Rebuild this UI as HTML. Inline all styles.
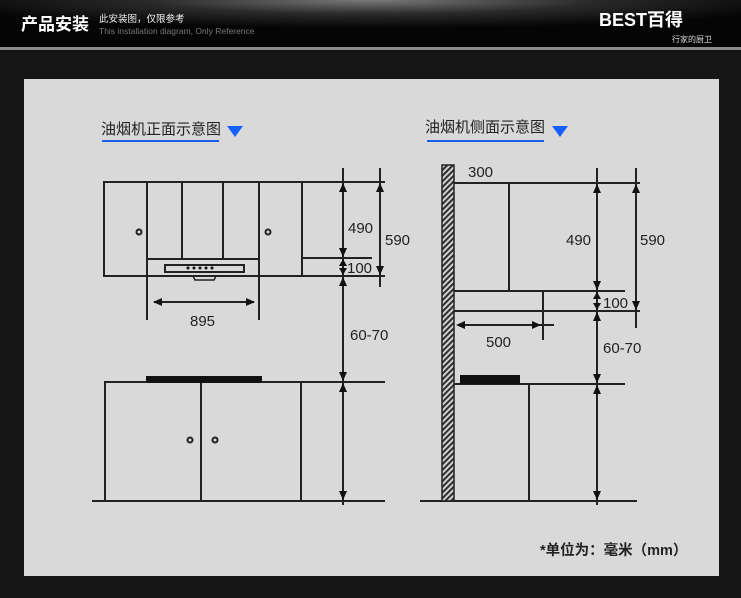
<!DOCTYPE html>
<html><head><meta charset="utf-8"><style>
html,body{margin:0;padding:0;width:741px;height:598px;overflow:hidden;background:#151515;}
svg{display:block}
</style></head><body>
<svg width="741" height="598" viewBox="0 0 741 598" xmlns="http://www.w3.org/2000/svg">
<defs>
<radialGradient id="hg" cx="0.5" cy="0" r="0.6">
<stop offset="0" stop-color="#7a7a7a"/><stop offset="0.5" stop-color="#2a2a2a"/><stop offset="1" stop-color="#050505"/>
</radialGradient>
<pattern id="hatch" width="4" height="4" patternUnits="userSpaceOnUse" patternTransform="rotate(45)">
<rect width="4" height="4" fill="#ddd"/><rect width="2.2" height="4" fill="#333"/>
</pattern>
</defs>
<rect x="0" y="0" width="741" height="47" fill="url(#hg)"/>
<rect x="0" y="47" width="741" height="3" fill="#8a8a8a"/>
<rect x="0" y="50" width="741" height="548" fill="#151515"/>
<text x="21" y="30" font-family="Liberation Sans,'Noto Sans CJK SC',sans-serif" font-size="17" font-weight="bold" fill="#fff">产品安装</text>
<text x="99" y="22" font-family="Liberation Sans,'Noto Sans CJK SC',sans-serif" font-size="9.5" fill="#eee">此安装图，仅限参考</text>
<text x="99" y="34" font-family="Liberation Sans,sans-serif" font-size="8.5" fill="#777">This installation diagram, Only Reference</text>
<text x="599" y="26" font-family="Liberation Sans,'Noto Sans CJK SC',sans-serif" font-size="18" font-weight="bold" fill="#fff">BEST百得</text>
<text x="672" y="42" font-family="Liberation Sans,'Noto Sans CJK SC',sans-serif" font-size="8" fill="#ddd">行家的厨卫</text>

<rect x="24" y="79" width="695" height="497" fill="#d9d9d9"/>

<g font-family="Liberation Sans,'Noto Sans CJK SC',sans-serif" font-size="15" fill="#222">
<text x="101" y="134">油烟机正面示意图</text>
<text x="425" y="132">油烟机侧面示意图</text>
</g>
<rect x="102" y="140" width="117" height="2" fill="#1f5fe6"/>
<rect x="427" y="140" width="117" height="2" fill="#1f5fe6"/>
<polygon points="227,126 243,126 235,137" fill="#1560ff"/>
<polygon points="552,126 568,126 560,137" fill="#1560ff"/>

<g stroke="#222" stroke-width="2" fill="none">
<rect x="104" y="182" width="198" height="94"/>
<line x1="147" y1="182" x2="147" y2="320"/>
<line x1="259" y1="182" x2="259" y2="320"/>
<line x1="182" y1="182" x2="182" y2="259"/>
<line x1="223" y1="182" x2="223" y2="259"/>
<line x1="147" y1="259" x2="259" y2="259"/>
<rect x="165" y="265" width="79" height="7"/>
<path d="M193 276 L195 280 L214 280 L216 276" stroke-width="1.5"/>
<circle cx="139" cy="232" r="2.5"/>
<circle cx="268" cy="232" r="2.5"/>
<line x1="302" y1="182" x2="385" y2="182"/>
<line x1="302" y1="276" x2="385" y2="276"/>
<line x1="302" y1="258" x2="372" y2="258"/>
<line x1="343" y1="168" x2="343" y2="505"/>
<line x1="380" y1="168" x2="380" y2="287"/>
<line x1="154" y1="302" x2="254" y2="302"/>
<line x1="104" y1="382" x2="385" y2="382"/>
<rect x="105" y="382" width="196" height="119"/>
<line x1="201" y1="382" x2="201" y2="501"/>
<circle cx="190" cy="440" r="2.5"/>
<circle cx="215" cy="440" r="2.5"/>
<line x1="92" y1="501" x2="385" y2="501"/>
<line x1="454" y1="183" x2="640" y2="183"/>
<line x1="509" y1="183" x2="509" y2="291"/>
<line x1="454" y1="291" x2="625" y2="291"/>
<line x1="543" y1="291" x2="543" y2="340"/>
<line x1="454" y1="311" x2="640" y2="311"/>
<line x1="458" y1="325" x2="554" y2="325"/>
<line x1="597" y1="168" x2="597" y2="505"/>
<line x1="636" y1="168" x2="636" y2="328"/>
<line x1="454" y1="384" x2="625" y2="384"/>
<line x1="529" y1="384" x2="529" y2="501"/>
<line x1="420" y1="501" x2="637" y2="501"/>
</g>
<rect x="442" y="165" width="12" height="336" fill="url(#hatch)" stroke="#222" stroke-width="1.5"/>
<rect x="146" y="376" width="116" height="7" fill="#111"/>
<rect x="460" y="375" width="60" height="9" fill="#111"/>
<g fill="#111">
<circle cx="188" cy="268" r="1.5"/><circle cx="194" cy="268" r="1.5"/><circle cx="200" cy="268" r="1.5"/><circle cx="206" cy="268" r="1.5"/><circle cx="212" cy="268" r="1.5"/>
<polygon points="343,183 339,192 347,192"/><polygon points="343,257 339,248 347,248"/>
<polygon points="343,259 339,266 347,266"/><polygon points="343,275 339,268 347,268"/>
<polygon points="343,277 339,286 347,286"/><polygon points="343,381 339,372 347,372"/>
<polygon points="343,383 339,392 347,392"/><polygon points="343,500 339,491 347,491"/>
<polygon points="380,183 376,192 384,192"/><polygon points="380,275 376,266 384,266"/>
<polygon points="153,302 162,298 162,306"/><polygon points="255,302 246,298 246,306"/>
<polygon points="597,184 593,193 601,193"/><polygon points="597,290 593,281 601,281"/>
<polygon points="597,292 593,299 601,299"/><polygon points="597,310 593,303 601,303"/>
<polygon points="597,312 593,321 601,321"/><polygon points="597,383 593,374 601,374"/>
<polygon points="597,385 593,394 601,394"/><polygon points="597,500 593,491 601,491"/>
<polygon points="636,184 632,193 640,193"/><polygon points="636,310 632,301 640,301"/>
<polygon points="456,325 465,321 465,329"/><polygon points="541,325 532,321 532,329"/>
</g>
<g font-family="Liberation Sans,sans-serif" font-size="15" fill="#222">
<text x="348" y="233">490</text>
<text x="385" y="245">590</text>
<text x="347" y="273">100</text>
<text x="350" y="340">60-70</text>
<text x="190" y="326">895</text>
<text x="468" y="177">300</text>
<text x="566" y="245">490</text>
<text x="640" y="245">590</text>
<text x="603" y="308">100</text>
<text x="486" y="347">500</text>
<text x="603" y="353">60-70</text>
</g>
<text x="540" y="555" font-family="Liberation Sans,'Noto Sans CJK SC',sans-serif" font-size="14.5" font-weight="bold" fill="#222">*单位为：毫米（mm）</text>
</svg>
</body></html>
